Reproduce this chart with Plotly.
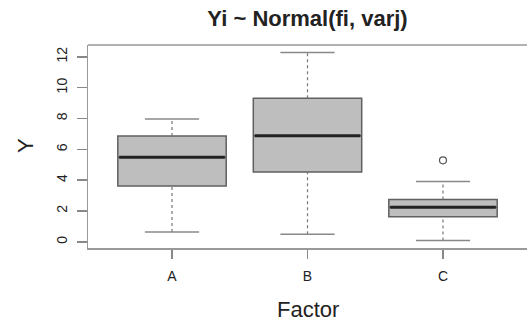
import plotly.graph_objects as go

categories = ["A", "B", "C"]
q1 = [3.62, 4.53, 1.62]
medians = [5.48, 6.89, 2.25]
q3 = [6.87, 9.32, 2.75]
lower_whisker = [0.63, 0.50, 0.09]
upper_whisker = [7.97, 12.28, 3.92]
outlier_cat = ["C"]
outlier_val = [5.29]
y_ticks = [0, 2, 4, 6, 8, 10, 12]

pos = {c: i for i, c in enumerate(categories)}
BW = 0.8
FONT = "Liberation Sans, Arial, sans-serif"

W, H = 527, 322
ML, MR, MT, MB = 88, 0, 45, 74
PW, PH = W - ML - MR, H - MT - MB


def px_to_paper(xp, yp):
    return (xp - ML) / PW, (H - MB - yp) / PH


fig = go.Figure()
for i, c in enumerate(categories):
    fig.add_trace(go.Scatter(x=[i, i], y=[lower_whisker[i], q1[i]], mode="lines",
                             line=dict(color="#777", width=1.2, dash="3px,3px"), showlegend=False, hoverinfo="skip"))
    fig.add_trace(go.Scatter(x=[i, i], y=[q3[i], upper_whisker[i]], mode="lines",
                             line=dict(color="#777", width=1.2, dash="3px,3px"), showlegend=False, hoverinfo="skip"))
    for v in (lower_whisker[i], upper_whisker[i]):
        fig.add_trace(go.Scatter(x=[i - BW / 4, i + BW / 4], y=[v, v], mode="lines",
                                 line=dict(color="#888", width=1.5), showlegend=False, hoverinfo="skip"))
    fig.add_trace(go.Box(x=[i], q1=[q1[i]], median=[medians[i]], q3=[q3[i]],
                         lowerfence=[q1[i]], upperfence=[q3[i]], width=BW,
                         fillcolor="#BEBEBE", line=dict(color="#606060", width=1.5),
                         boxpoints=False, showlegend=False, hoverinfo="skip", whiskerwidth=0))
    fig.add_trace(go.Scatter(x=[i - BW / 2 + 0.01, i + BW / 2 - 0.01], y=[medians[i], medians[i]], mode="lines",
                             line=dict(color="#222", width=3), showlegend=False, hoverinfo="skip"))

fig.add_trace(go.Scatter(x=[pos[c] for c in outlier_cat], y=outlier_val, mode="markers",
                         marker=dict(symbol="circle-open", size=7, color="#555", line=dict(width=1.2)),
                         showlegend=False, hoverinfo="skip"))

fx, fy = px_to_paper(308, 309.5)
yx, yy = px_to_paper(25, 146)

fig.update_layout(
    width=W, height=H,
    margin=dict(l=ML, r=MR, t=MT, b=MB, autoexpand=False),
    paper_bgcolor="white", plot_bgcolor="white",
    font=dict(family=FONT, color="#222"),
    hovermode=False,
    title=dict(text="<b>Yi ~ Normal(fi, varj)</b>", x=0.5, xref="paper", xanchor="center",
               y=1 - 18 / H, yanchor="middle", yref="container",
               font=dict(size=22, color="#222", family=FONT)),
    xaxis=dict(range=[-0.62, 2.62], tickvals=list(range(len(categories))), ticktext=categories,
               showgrid=False, zeroline=False, showline=True, linecolor="#999", linewidth=1.5,
               ticks="outside", ticklen=9, tickcolor="#888", tickwidth=1.5, automargin=False,
               tickfont=dict(size=14, color="#222"), ticklabelstandoff=6),
    yaxis=dict(range=[-0.40, 12.77], tickvals=y_ticks, ticktext=[str(t) for t in y_ticks],
               showgrid=False, zeroline=False, showline=True, linecolor="#999", linewidth=1.5,
               ticks="outside", ticklen=10, tickcolor="#888", tickwidth=1.5, tickangle=-90, automargin=False,
               tickfont=dict(size=14, color="#222"), ticklabelstandoff=4),
    shapes=[dict(type="line", xref="paper", yref="paper", x0=0, x1=1, y0=1, y1=1,
                 line=dict(color="#999", width=1.5))],
    annotations=[
        dict(text="Factor", x=fx, xref="paper", y=fy, yref="paper", xanchor="center", yanchor="middle",
             showarrow=False, font=dict(size=22, color="#222", family=FONT)),
        dict(text="Y", x=yx, xref="paper", y=yy, yref="paper", xanchor="center", yanchor="middle",
             textangle=-90, showarrow=False, font=dict(size=22, color="#222", family=FONT)),
    ],
)

fig.write_html("out.html", config={"displayModeBar": False, "staticPlot": True},
               post_script="document.body.style.margin='0';document.body.style.overflow='hidden';")
